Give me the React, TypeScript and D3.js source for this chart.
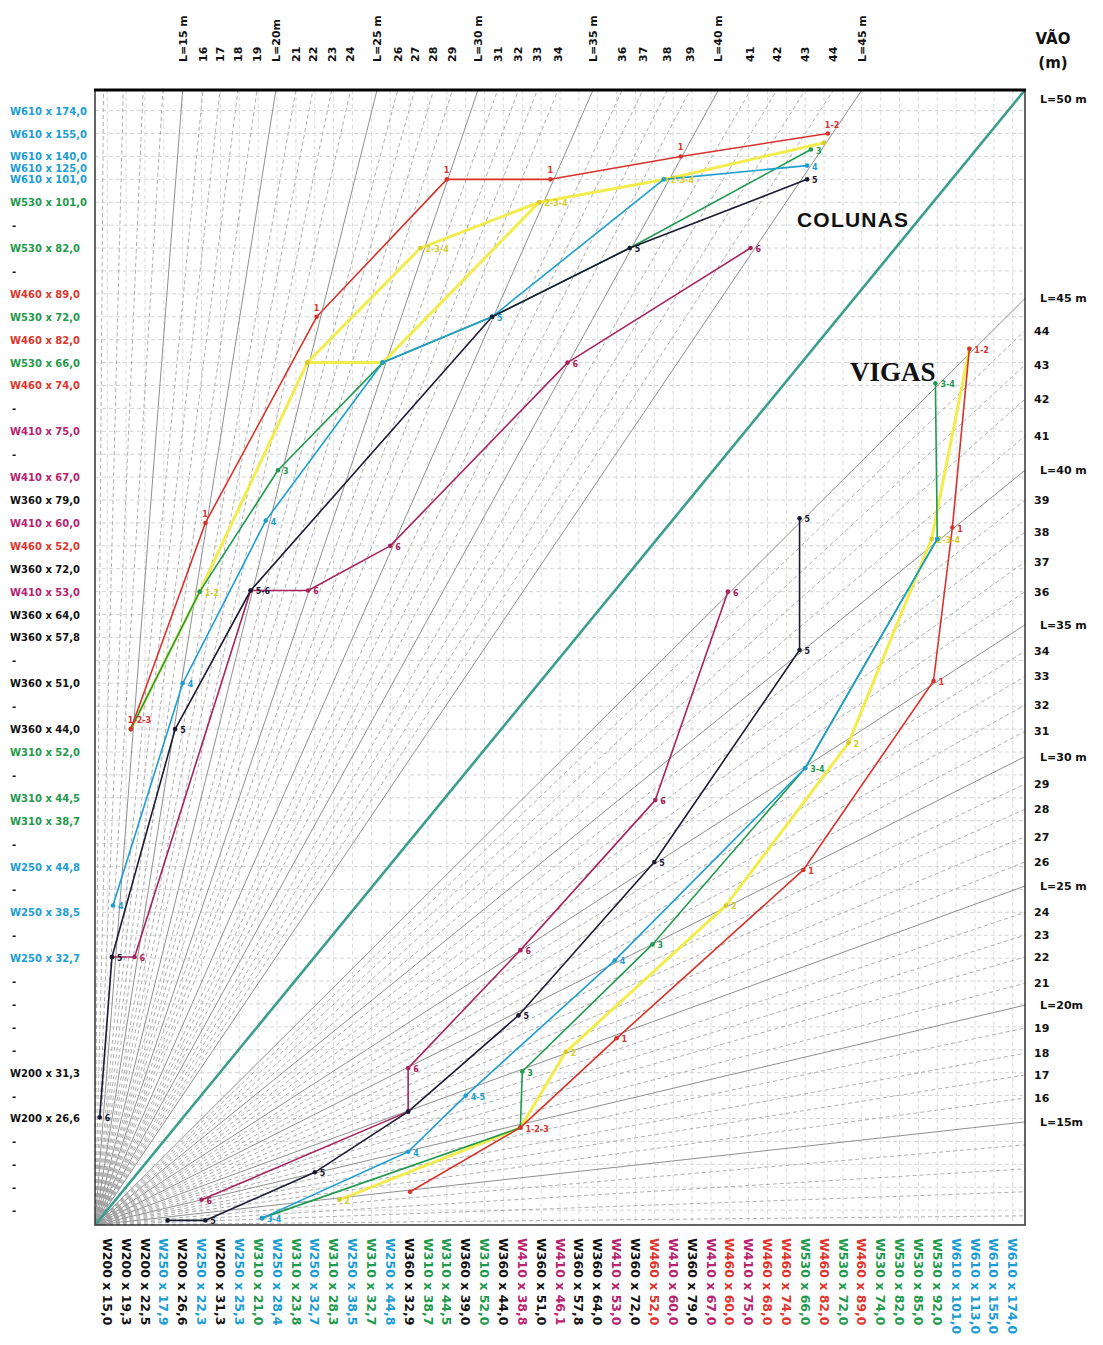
import React from "react";
import * as d3 from "d3";

type Pt = [number, number, string];

// perfis de vigas (eixo inferior, índice 0..48)
const beamProfiles = [
  "W200 x 15,0", "W200 x 19,3", "W200 x 22,5", "W250 x 17,9", "W200 x 26,6", "W250 x 22,3",
  "W200 x 31,3", "W250 x 25,3", "W310 x 21,0", "W250 x 28,4", "W310 x 23,8", "W250 x 32,7",
  "W310 x 28,3", "W250 x 38,5", "W310 x 32,7", "W250 x 44,8", "W360 x 32,9", "W310 x 38,7",
  "W310 x 44,5", "W360 x 39,0", "W310 x 52,0", "W360 x 44,0", "W410 x 38,8", "W360 x 51,0",
  "W410 x 46,1", "W360 x 57,8", "W360 x 64,0", "W410 x 53,0", "W360 x 72,0", "W460 x 52,0",
  "W410 x 60,0", "W360 x 79,0", "W410 x 67,0", "W460 x 60,0", "W410 x 75,0", "W460 x 68,0",
  "W460 x 74,0", "W530 x 66,0", "W460 x 82,0", "W530 x 72,0", "W460 x 89,0", "W530 x 74,0",
  "W530 x 82,0", "W530 x 85,0", "W530 x 92,0", "W610 x 101,0", "W610 x 113,0", "W610 x 155,0",
  "W610 x 174,0",
];

// perfis de colunas (eixo esquerdo, linha 0 embaixo)
const columnProfiles = [
  "-", "-", "-", "-", "W200 x 26,6", "-", "W200 x 31,3", "-", "-", "-", "-", "W250 x 32,7",
  "-", "W250 x 38,5", "-", "W250 x 44,8", "-", "W310 x 38,7", "W310 x 44,5", "-", "W310 x 52,0",
  "W360 x 44,0", "-", "W360 x 51,0", "-", "W360 x 57,8", "W360 x 64,0", "W410 x 53,0",
  "W360 x 72,0", "W460 x 52,0", "W410 x 60,0", "W360 x 79,0", "W410 x 67,0", "-", "W410 x 75,0",
  "-", "W460 x 74,0", "W530 x 66,0", "W460 x 82,0", "W530 x 72,0", "W460 x 89,0", "-",
  "W530 x 82,0", "-", "W530 x 101,0", "W610 x 101,0", "W610 x 140,0", "W610 x 155,0", "W610 x 174,0",
];
const columnExtraLabel = "W610 x 125,0";
const columnExtraRow = 45.5;

// vãos (linhas radiais)
const spans = [15, 16, 17, 18, 19, 20, 21, 22, 23, 24, 25, 26, 27, 28, 29, 30, 31, 32, 33, 34, 35, 36, 37, 38, 39, 40, 41, 42, 43, 44, 45];
const colReach = [4.0, 5.07, 5.98, 6.93, 7.94, 8.94, 10.0, 10.9, 11.9, 12.9, 14.3, 15.4, 16.3, 17.3, 18.3, 19.65, 20.7, 21.8, 22.8, 23.9, 25.75, 27.3, 28.4, 29.7, 30.9, 32.4, 34.1, 35.5, 37.0, 38.5, 40.0];
const beamReach = [3.85, 4.89, 5.9, 6.85, 7.95, 8.95, 9.9, 11.05, 12.0, 13.0, 14.15, 15.2, 16.3, 17.5, 18.6, 19.8, 20.9, 22.05, 23.3, 24.4, 25.55, 27.0, 28.3, 29.6, 31.0, 32.3, 33.8, 35.4, 36.9, 38.4, 39.8];
const shortSpans = [11, 12, 13, 14];
const shortColReach = [-0.2, 0.85, 1.9, 2.95];
const shortBeamReach = [-0.25, 0.8, 1.8, 2.85];
const colSpanText = ["L=15 m", "16", "17", "18", "19", "L=20m", "21", "22", "23", "24", "L=25 m", "26", "27", "28", "29", "L=30 m", "31", "32", "33", "34", "L=35 m", "36", "37", "38", "39", "L=40 m", "41", "42", "43", "44", "L=45 m"];
const beamSpanText = ["L=15m", "16", "17", "18", "19", "L=20m", "21", "22", "23", "24", "L=25 m", "26", "27", "28", "29", "L=30 m", "31", "32", "33", "34", "L=35 m", "36", "37", "38", "39", "L=40 m", "41", "42", "43", "44", "L=45 m"];

// COLUNAS
const colRed: Pt[] = [[1.25, 21, "1-2-3"], [5.2, 30, "1"], [11.1, 39, "1"], [18, 45, "1"], [23.5, 45, "1"], [30.4, 46, "1"], [38.2, 47, "1-2"]];
const colYellowA: Pt[] = [[1.25, 21, ""], [4.9, 27, "1-2"], [10.6, 37, ""], [14.6, 37, ""], [22.9, 44, ""], [29.6, 45, "2-3-4"], [38, 46.6, ""]];
const colYellowB: Pt[] = [[10.6, 37, ""], [16.6, 42, "2-3-4"], [22.9, 44, "2-3-4"]];
const colGreen: Pt[] = [[1.25, 21, ""], [4.9, 27, ""], [9.05, 32.3, "3"], [14.6, 37, ""], [20.4, 39, ""], [27.7, 42, ""], [37.3, 46.3, "3"]];
const colCyan: Pt[] = [[0.3, 13.3, "4"], [4, 23, "4"], [8.4, 30.1, "4"], [14.6, 37, ""], [20.4, 39, "5"], [29.5, 45, ""], [37.1, 45.6, "4"]];
const colBlack: Pt[] = [[-0.4, 4.05, "6"], [0.25, 11.05, "5"], [3.6, 21, "5"], [7.6, 27.05, "5-6"], [20.4, 39, ""], [27.7, 42, "5"], [37.1, 45, "5"]];
const colMagenta: Pt[] = [[0.25, 11.05, ""], [1.45, 11.05, "6"], [7.6, 27.05, ""], [10.65, 27.05, "6"], [15, 29, "6"], [24.4, 37, "6"], [34.1, 42, "6"]];

// VIGAS
const beamRed: Pt[] = [[16.05, 0.8, ""], [21.9, 3.6, "1-2-3"], [27, 7.5, "1"], [36.9, 14.85, "1"], [43.8, 23.1, "1"], [44.8, 29.8, "1"], [45.7, 37.6, "1-2"]];
const beamYellow: Pt[] = [[12.3, 0.45, "2"], [21.9, 3.6, ""], [24.3, 6.9, "2"], [32.8, 13.3, "2"], [39.3, 20.4, "2"], [43.7, 29.3, "2-3-4"], [45.7, 37.6, ""]];
const beamGreen: Pt[] = [[8.2, -0.35, ""], [21.9, 3.6, ""], [22, 6.05, "3"], [28.9, 11.6, "3"], [37, 19.3, "3-4"], [44, 29.3, ""], [43.9, 36.1, "3-4"]];
const beamCyan: Pt[] = [[8.2, -0.35, "3-4"], [15.95, 2.55, "4"], [19, 5, "4-5"], [26.9, 10.9, "4"], [37, 19.3, ""], [44, 29.3, ""]];
const beamBlack: Pt[] = [[3.2, -0.45, ""], [5.2, -0.45, "5"], [11, 1.65, "5"], [15.95, 4.3, ""], [21.8, 8.5, "5"], [29, 15.2, "5"], [36.7, 24.45, "5"], [36.7, 30.2, "5"]];
const beamMagenta: Pt[] = [[5, 0.45, "6"], [15.95, 4.3, ""], [15.95, 6.2, "6"], [21.9, 11.35, "6"], [29.05, 17.9, "6"], [32.9, 27, "6"]];

const familyColor: Record<string, string> = {
  W200: "#111111", W250: "#1b9dd4", W310: "#1f9a4c", W360: "#111111",
  W410: "#b8226e", W460: "#e0342c", W530: "#1f9a4c", W610: "#1b9dd4",
};

const RED = "#d8322c", YELLOW = "#f1ea3a", GREEN = "#1f9a50", CYAN = "#1c9fd0", BLACK = "#1b1b33", MAGENTA = "#a8245f";

const series: { pts: Pt[]; color: string; width: number; labelAbove?: boolean }[] = [
  { pts: colYellowA, color: YELLOW, width: 3 },
  { pts: colYellowB, color: YELLOW, width: 3 },
  { pts: beamYellow, color: YELLOW, width: 3 },
  { pts: colGreen, color: GREEN, width: 1.6 },
  { pts: beamGreen, color: GREEN, width: 1.6 },
  { pts: colCyan, color: CYAN, width: 1.6 },
  { pts: beamCyan, color: CYAN, width: 1.6 },
  { pts: colMagenta, color: MAGENTA, width: 1.6 },
  { pts: beamMagenta, color: MAGENTA, width: 1.6 },
  { pts: colBlack, color: BLACK, width: 1.6 },
  { pts: beamBlack, color: BLACK, width: 1.6 },
  { pts: colRed, color: RED, width: 1.6, labelAbove: true },
  { pts: beamRed, color: RED, width: 1.6 },
];

const labelColor = (t: string) => familyColor[t.slice(0, 4)] || "#111";

export default function App() {
  const left = 95, right = 1025, top = 90, bottom = 1225;
  const x = d3.scaleLinear().domain([-0.65, 48.65]).range([left, right]);
  const y = d3.scaleLinear().domain([-0.65, 48.9]).range([bottom, top]);
  const ox = x(-0.65), oy = y(-0.65);
  const line = d3.line<Pt>().x((d) => x(d[0])).y((d) => y(d[1]));
  const idx = d3.range(beamProfiles.length);
  const font = "'DejaVu Sans', Verdana, sans-serif";

  return (
    <svg width={1103} height={1345} style={{ position: "absolute", left: 0, top: 0, background: "#fff" }} fontFamily={font}>
      <rect x={0} y={0} width={1103} height={1345} fill="#fff" />
      <defs>
        <clipPath id="plot">
          <rect x={left} y={top} width={right - left} height={bottom - top} />
        </clipPath>
      </defs>
      <g clipPath="url(#plot)">
        {/* grade */}
        {idx.map((i) => (
          <line key={"h" + i} x1={left} x2={right} y1={y(i)} y2={y(i)} stroke="#c9c9c9" strokeWidth={0.8} strokeDasharray="4,3" />
        ))}
        {idx.map((i) => (
          <line key={"v" + i} x1={x(i)} x2={x(i)} y1={top} y2={bottom} stroke="#d2d2d2" strokeWidth={0.8} strokeDasharray="4,3" />
        ))}
        {/* linhas radiais */}
        {shortSpans.map((s, k) => (
          <g key={"s" + s}>
            <line x1={ox} y1={oy} x2={x(shortColReach[k])} y2={top} stroke="#a5a5a5" strokeWidth={0.9} strokeDasharray="4,3" />
            <line x1={ox} y1={oy} x2={right} y2={y(shortBeamReach[k])} stroke="#a5a5a5" strokeWidth={0.9} strokeDasharray="4,3" />
          </g>
        ))}
        {spans.map((s, k) => {
          const solid = s % 5 === 0;
          return (
            <g key={"r" + s}>
              <line x1={ox} y1={oy} x2={x(colReach[k])} y2={top} stroke={solid ? "#8f8f8f" : "#a5a5a5"} strokeWidth={solid ? 1 : 0.9} strokeDasharray={solid ? undefined : "4,3"} />
              <line x1={ox} y1={oy} x2={right} y2={y(beamReach[k])} stroke={solid ? "#8f8f8f" : "#a5a5a5"} strokeWidth={solid ? 1 : 0.9} strokeDasharray={solid ? undefined : "4,3"} />
            </g>
          );
        })}
        <line x1={ox} y1={oy} x2={right} y2={top} stroke="#3a9e8a" strokeWidth={2.6} />

        {/* séries */}
        {series.map((s, k) => (
          <g key={"ser" + k}>
            <path d={line(s.pts) || ""} fill="none" stroke={s.color} strokeWidth={s.width} strokeLinejoin="round" opacity={s.color === YELLOW ? 0.9 : 1} />
          </g>
        ))}
        {series.map((s, k) => (
          <g key={"pt" + k}>
            {s.pts.map((p, j) => (
              <g key={j}>
                <circle cx={x(p[0])} cy={y(p[1])} r={2.3} fill={s.color === YELLOW ? "#d6c92a" : s.color} />
                {p[2] && (
                  <text
                    x={x(p[0]) + (s.labelAbove ? -3 : 5)}
                    y={y(p[1]) + (s.labelAbove ? -6 : 4)}
                    fontSize={8}
                    fontWeight="bold"
                    fill={s.color === YELLOW ? "#d8cc2c" : s.color}
                  >
                    {p[2]}
                  </text>
                )}
              </g>
            ))}
          </g>
        ))}
      </g>

      {/* moldura */}
      <rect x={left} y={top} width={right - left} height={bottom - top} fill="none" stroke="#333" strokeWidth={1.5} />
      <line x1={left - 1} x2={right + 1} y1={top} y2={top} stroke="#000" strokeWidth={3} />

      <text x={797} y={227} fontSize={21} fontWeight="bold" fill="#111" fontFamily="'Liberation Sans', Arial, sans-serif" textLength={111}>COLUNAS</text>
      <text x={850} y={381} fontSize={27} fontWeight="bold" fill="#111" fontFamily="'Liberation Serif', 'Times New Roman', serif">VIGAS</text>

      {/* eixo superior: vãos das colunas */}
      {spans.map((s, k) => (
        <text key={"ct" + s} transform={`translate(${x(colReach[k])},62) rotate(-90)`} dy="0.35em" fontSize={11} fontWeight="bold" fill="#111">
          {colSpanText[k]}
        </text>
      ))}
      <text x={1053} y={44} fontSize={15} fontWeight="bold" textAnchor="middle" fill="#111">VÃO</text>
      <text x={1053} y={68} fontSize={15} fontWeight="bold" textAnchor="middle" fill="#111">(m)</text>

      {/* eixo direito: vãos das vigas */}
      <text x={1040} y={y(48.5) + 4} fontSize={11} fontWeight="bold" fill="#111">L=50 m</text>
      {spans.map((s, k) => (
        <text key={"bt" + s} x={beamSpanText[k].startsWith("L") ? 1040 : 1034} y={y(beamReach[k]) + 4} fontSize={11} fontWeight="bold" fill="#111">
          {beamSpanText[k]}
        </text>
      ))}

      {/* eixo esquerdo: perfis das colunas */}
      {columnProfiles.map((t, i) => (
        <text key={"cp" + i} x={t === "-" ? 12 : 10} y={y(i) + 4} fontSize={10} fontWeight="bold" fill={labelColor(t)}>
          {t}
        </text>
      ))}
      <text x={10} y={y(columnExtraRow) + 4} fontSize={10} fontWeight="bold" fill={labelColor(columnExtraLabel)}>
        {columnExtraLabel}
      </text>

      {/* eixo inferior: perfis das vigas */}
      {beamProfiles.map((t, i) => (
        <text key={"bp" + i} transform={`translate(${x(i)},1238) rotate(90)`} dy="0.35em" fontSize={12.5} fontWeight="bold" fill={labelColor(t)}>
          {t}
        </text>
      ))}
    </svg>
  );
}
